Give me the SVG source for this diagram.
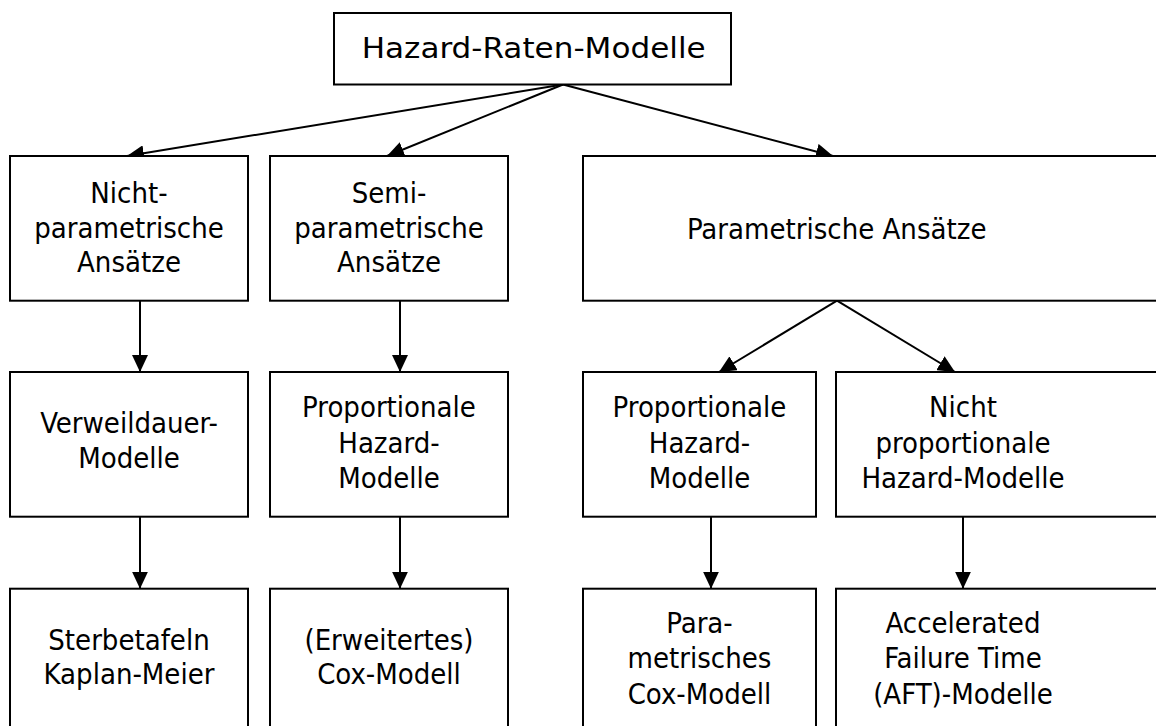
<svg xmlns="http://www.w3.org/2000/svg" width="1156" height="726" viewBox="0 0 1156 726">
<defs>
<style>
.box{fill:#fff;stroke:#000;stroke-width:2}
.t{font-family:"DejaVu Sans Condensed","DejaVu Sans",sans-serif;font-stretch:condensed;font-size:29px;fill:#000;text-anchor:middle}
.c{fill:none;stroke:#000;stroke-width:2}
</style>
<marker id="ah" markerUnits="userSpaceOnUse" viewBox="0 0 17 16" markerWidth="17" markerHeight="16" refX="17" refY="8" orient="auto">
<path d="M0,0 L17,8 L0,16 z" fill="#000"/>
</marker>
</defs>
<rect width="1156" height="726" fill="#fff"/>
<g id="connectors">
<line class="c" x1="563" y1="84.5" x2="127" y2="156" marker-end="url(#ah)"/>
<line class="c" x1="563" y1="84.5" x2="387" y2="156" marker-end="url(#ah)"/>
<line class="c" x1="563" y1="84.5" x2="833" y2="156" marker-end="url(#ah)"/>
<line class="c" x1="140" y1="300.7" x2="140" y2="372" marker-end="url(#ah)"/>
<line class="c" x1="400" y1="300.7" x2="400" y2="372" marker-end="url(#ah)"/>
<line class="c" x1="837" y1="300.7" x2="719" y2="372" marker-end="url(#ah)"/>
<line class="c" x1="837" y1="300.7" x2="955" y2="372" marker-end="url(#ah)"/>
<line class="c" x1="140" y1="516.7" x2="140" y2="588.7" marker-end="url(#ah)"/>
<line class="c" x1="400" y1="516.7" x2="400" y2="588.7" marker-end="url(#ah)"/>
<line class="c" x1="711" y1="516.7" x2="711" y2="588.7" marker-end="url(#ah)"/>
<line class="c" x1="963" y1="516.7" x2="963" y2="588.7" marker-end="url(#ah)"/>
</g>
<g id="n-root">
<rect class="box" x="334" y="13" width="397" height="71.5"/>
<text class="t" x="533.7" y="58.3" textLength="344" lengthAdjust="spacingAndGlyphs">Hazard-Raten-Modelle</text>
</g>
<g id="n-nichtparam">
<rect class="box" x="10" y="156" width="238" height="144.7"/>
<text class="t" x="129" y="203">Nicht-</text>
<text class="t" x="129" y="237.5">parametrische</text>
<text class="t" x="129" y="272">Ansätze</text>
</g>
<g id="n-semiparam">
<rect class="box" x="270" y="156" width="238" height="144.7"/>
<text class="t" x="389" y="203">Semi-</text>
<text class="t" x="389" y="237.5">parametrische</text>
<text class="t" x="389" y="272">Ansätze</text>
</g>
<g id="n-param">
<rect class="box" x="583" y="156" width="580" height="144.7"/>
<text class="t" x="836.7" y="239.3">Parametrische Ansätze</text>
</g>
<g id="n-verweil">
<rect class="box" x="10" y="372" width="238" height="144.7"/>
<text class="t" x="129" y="433.3">Verweildauer-</text>
<text class="t" x="129" y="468.3">Modelle</text>
</g>
<g id="n-prop1">
<rect class="box" x="270" y="372" width="238" height="144.7"/>
<text class="t" x="389" y="417.3">Proportionale</text>
<text class="t" x="389" y="453.3">Hazard-</text>
<text class="t" x="389" y="488.3">Modelle</text>
</g>
<g id="n-prop2">
<rect class="box" x="583" y="372" width="233" height="144.7"/>
<text class="t" x="699.5" y="417.3">Proportionale</text>
<text class="t" x="699.5" y="453.3">Hazard-</text>
<text class="t" x="699.5" y="488.3">Modelle</text>
</g>
<g id="n-nichtprop">
<rect class="box" x="836" y="372" width="327" height="144.7"/>
<text class="t" x="963" y="417.3">Nicht</text>
<text class="t" x="963" y="453.3">proportionale</text>
<text class="t" x="963" y="488.3">Hazard-Modelle</text>
</g>
<g id="n-sterbe">
<rect class="box" x="10" y="588.7" width="238" height="150"/>
<text class="t" x="129" y="650">Sterbetafeln</text>
<text class="t" x="129" y="684.3">Kaplan-Meier</text>
</g>
<g id="n-cox">
<rect class="box" x="270" y="588.7" width="238" height="150"/>
<text class="t" x="389" y="650">(Erweitertes)</text>
<text class="t" x="389" y="684.3">Cox-Modell</text>
</g>
<g id="n-paracox">
<rect class="box" x="583" y="588.7" width="233" height="150"/>
<text class="t" x="699.5" y="633.3">Para-</text>
<text class="t" x="699.5" y="668.3">metrisches</text>
<text class="t" x="699.5" y="704">Cox-Modell</text>
</g>
<g id="n-aft">
<rect class="box" x="836" y="588.7" width="327" height="150"/>
<text class="t" x="963" y="633.3">Accelerated</text>
<text class="t" x="963" y="668.3">Failure Time</text>
<text class="t" x="963" y="704">(AFT)-Modelle</text>
</g>
</svg>
